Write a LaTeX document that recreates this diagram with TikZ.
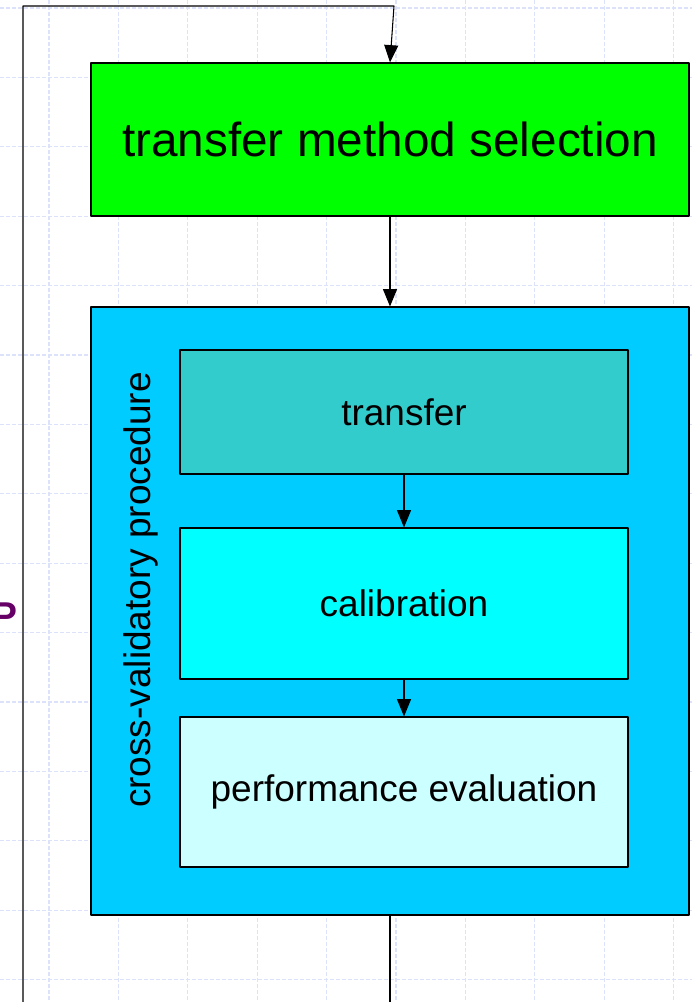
\documentclass[tikz,border=0pt]{standalone}
\usepackage{fontspec}
\setmainfont{Liberation Sans}
\usetikzlibrary{arrows.meta}
\definecolor{selgreen}{HTML}{00FF00}
\definecolor{cvblue}{HTML}{00CCFF}
\definecolor{transteal}{HTML}{33CCCC}
\definecolor{calibcyan}{HTML}{00FFFF}
\definecolor{perfcyan}{HTML}{CCFFFF}
\definecolor{gridblue}{HTML}{DCE2FA}
\definecolor{markpurple}{HTML}{660066}
\begin{document}
\begin{tikzpicture}[x=0.75pt,y=-0.75pt, line join=round, >={Triangle[length=13pt,width=10.5pt]},
		box/.style={draw=black, line width=0.8pt, inner sep=0pt, align=center},
		gridline/.style={gridblue, line width=0.8pt, dash pattern=on 3pt off 1.5pt}]
				\useasboundingbox (0,0) rectangle (692,1002);
				\fill[white] (0,0) rectangle (692,1002);
				% background grid
				\foreach \gx in {0,...,9} \draw[gridline] ({49+69.4*\gx},0) -- ++(0,1002);
				\foreach \gy in {0,...,14} \draw[gridline] (0,{8+69.4*\gy}) -- ++(692,0);
				\node[anchor=base west, inner sep=0pt, text=markpurple, font=\fontsize{28}{34}\selectfont\bfseries] (mark) at (-8,628) {P};
				% boxes
				\node[box, fill=selgreen, minimum width=448.5pt, minimum height=114.75pt, font=\fontsize{35.8}{43}\selectfont] (sel) at (390,139.5) {transfer method selection};
				\node[box, fill=cvblue, minimum width=448.5pt, minimum height=456pt] (cvp) at (390,611) {};
				\node[rotate=90, inner sep=0pt, font=\fontsize{27.75}{33}\selectfont] (cvlabel) at (141,590) {cross-validatory procedure};
				\node[box, fill=transteal, minimum width=336pt, minimum height=93pt, font=\fontsize{27.75}{33}\selectfont] (trans) at (404,412) {transfer};
				\node[box, fill=calibcyan, minimum width=336pt, minimum height=113.25pt, font=\fontsize{27.75}{33}\selectfont] (calib) at (404,603.5) {calibration};
				\node[box, fill=perfcyan, minimum width=336pt, minimum height=112.5pt, font=\fontsize{27.75}{33}\selectfont] (perf) at (404,792) {performance evaluation};
				% connectors
				\coordinate (loopin) at (23,1002);
				\coordinate (looptop) at (394,6);
				\coordinate (out) at (390,1002);
				\draw[line width=0.8pt, ->] (loopin) |- (looptop) -- (sel.north);
				\draw[line width=0.8pt, ->] (sel.south) -- (cvp.north);
				\draw[line width=0.8pt, ->] (trans.south) -- (calib.north);
				\draw[line width=0.8pt, ->] (calib.south) -- (perf.north);
				\draw[line width=0.8pt] (cvp.south) -- (out);
\end{tikzpicture}
\end{document}
